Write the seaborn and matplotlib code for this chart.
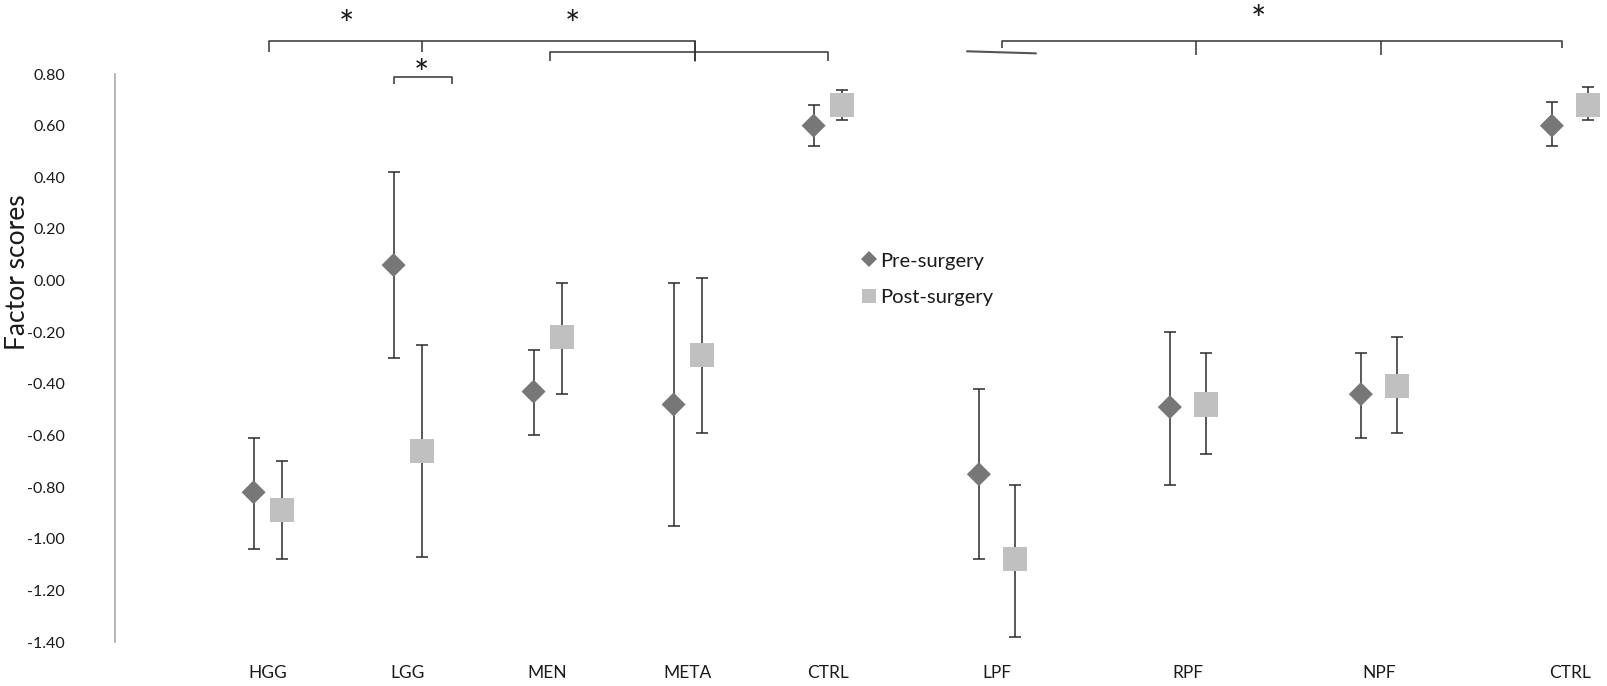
"""Factor scores before and after surgery, by tumour group and by lesion side."""

import matplotlib

matplotlib.use("Agg")
import matplotlib.pyplot as plt
import numpy as np
import pandas as pd
import seaborn as sns
from matplotlib.lines import Line2D

# tumour groups (left panel)
tumour_groups = ["HGG", "LGG", "MEN", "META", "CTRL"]
tumour_pre = [-0.82, 0.06, -0.43, -0.48, 0.60]
tumour_pre_low = [-1.04, -0.30, -0.60, -0.95, 0.52]
tumour_pre_high = [-0.61, 0.42, -0.27, -0.01, 0.68]
tumour_post = [-0.89, -0.66, -0.22, -0.29, 0.68]
tumour_post_low = [-1.08, -1.07, -0.44, -0.59, 0.62]
tumour_post_high = [-0.70, -0.25, -0.01, 0.01, 0.74]

# lesion side groups (right panel)
side_groups = ["LPF", "RPF", "NPF", "CTRL"]
side_pre = [-0.75, -0.49, -0.44, 0.60]
side_pre_low = [-1.08, -0.79, -0.61, 0.52]
side_pre_high = [-0.42, -0.20, -0.28, 0.69]
side_post = [-1.08, -0.48, -0.41, 0.68]
side_post_low = [-1.38, -0.67, -0.59, 0.62]
side_post_high = [-0.79, -0.28, -0.22, 0.75]

y_ticks = [0.80, 0.60, 0.40, 0.20, 0.00, -0.20, -0.40, -0.60, -0.80, -1.00, -1.20, -1.40]
timepoints = ["Pre-surgery", "Post-surgery"]

PRE_COLOR = "#777777"
POST_COLOR = "#c0c0c0"
BAR_COLOR = "#2b2b2b"
TEXT_COLOR = "#1a1a1a"
FONT = ["Lato", "DejaVu Sans"]


def build_frame(groups, pre, pre_low, pre_high, post, post_low, post_high, dodge):
    """Long table with one row per group and timepoint."""
    rows = []
    index = np.arange(len(groups))
    for time, offset, mean, low, high in (
        ("Pre-surgery", -dodge, pre, pre_low, pre_high),
        ("Post-surgery", dodge, post, post_low, post_high),
    ):
        for i, group in enumerate(groups):
            rows.append(
                {
                    "group": group,
                    "time": time,
                    "pos": index[i] + offset,
                    "score": mean[i],
                    "low": low[i],
                    "high": high[i],
                }
            )
    return pd.DataFrame(rows)


def draw_panel(ax, frame, groups):
    """Error bars first, then the markers on top."""
    ax.errorbar(
        frame["pos"],
        frame["score"],
        yerr=[frame["score"] - frame["low"], frame["high"] - frame["score"]],
        fmt="none",
        ecolor=BAR_COLOR,
        elinewidth=1.1,
        capsize=4.3,
        capthick=1.1,
        zorder=2,
    )
    sns.scatterplot(
        data=frame,
        x="pos",
        y="score",
        hue="time",
        style="time",
        size="time",
        hue_order=timepoints,
        palette={"Pre-surgery": PRE_COLOR, "Post-surgery": POST_COLOR},
        markers={"Pre-surgery": "D", "Post-surgery": "s"},
        sizes={"Pre-surgery": 150, "Post-surgery": 300},
        linewidth=0,
        legend=False,
        zorder=3,
        ax=ax,
    )
    ax.set_ylim(-1.40, 0.80)
    ax.set_xticks(np.arange(len(groups)))
    ax.set_xticklabels(groups, fontsize=12.5, color=TEXT_COLOR, family=FONT)
    ax.tick_params(axis="x", length=0, pad=16.5)
    ax.set_xlabel("")
    ax.set_ylabel("")
    for spine in ax.spines.values():
        spine.set_visible(False)


def draw_bracket(ax, x0, x1, y, drop, ticks=(), tick_drop=None, color="#333333"):
    """Horizontal significance bracket with end and middle ticks."""
    kw = dict(color=color, linewidth=1.1, clip_on=False, solid_capstyle="butt")
    ax.plot([x0, x0, x1, x1], [y - drop, y, y, y - drop], **kw)
    for x in ticks:
        ax.plot([x, x], [y, y - (tick_drop or drop)], **kw)


sns.set_theme(style="white")
plt.rcParams["font.family"] = FONT

fig = plt.figure(figsize=(16.08, 6.86), dpi=100)
ax_left = fig.add_axes([0.0715, 0.0641, 0.478, 0.828])
ax_right = fig.add_axes([0.5566, 0.0641, 0.4434, 0.828])

left_frame = build_frame(
    tumour_groups, tumour_pre, tumour_pre_low, tumour_pre_high,
    tumour_post, tumour_post_low, tumour_post_high, dodge=0.1,
)
right_frame = build_frame(
    side_groups, side_pre, side_pre_low, side_pre_high,
    side_post, side_post_low, side_post_high, dodge=0.095,
)

draw_panel(ax_left, left_frame, tumour_groups)
draw_panel(ax_right, right_frame, side_groups)
ax_left.set_xlim(-1.09, 4.4)
ax_right.set_xlim(-0.534, 3.199)

# y axis only on the left panel
ax_left.spines["left"].set_visible(True)
ax_left.spines["left"].set_color("#ababab")
ax_left.spines["left"].set_linewidth(1.2)
ax_left.set_yticks(y_ticks)
ax_left.set_yticklabels([f"{v:.2f}" for v in y_ticks], fontsize=11.5, color=TEXT_COLOR, family=FONT)
ax_left.tick_params(axis="y", length=0, pad=36)
ax_left.set_ylabel("Factor scores", fontsize=19, color=TEXT_COLOR, family=FONT)
ax_left.yaxis.set_label_coords(-0.1105, 0.651)
ax_right.set_yticks([])

# significance brackets, left panel
draw_bracket(ax_left, 0.01, 3.05, 0.927, 0.043, ticks=[1.1])
draw_bracket(ax_left, 2.02, 4.0, 0.884, 0.035, ticks=[3.05])
ax_left.plot([3.05, 3.05], [0.927, 0.85], color="#333333", linewidth=1.1, clip_on=False)
draw_bracket(ax_left, 0.9, 1.32, 0.788, 0.027)
for x, y in [(0.56, 0.945), (2.18, 0.945), (1.1, 0.752)]:
    ax_left.text(x, y, "*", ha="center", va="baseline", fontsize=26, color=TEXT_COLOR, clip_on=False)

# significance brackets, right panel
draw_bracket(ax_right, 0.026, 2.96, 0.927, 0.027, ticks=[1.04, 2.01], tick_drop=0.054)
ax_right.plot([-0.157, 0.204], [0.888, 0.880], color="#555555", linewidth=1.5, clip_on=False)
ax_right.text(1.37, 0.962, "*", ha="center", va="baseline", fontsize=26, color=TEXT_COLOR, clip_on=False)

handles = [
    Line2D([], [], marker="D", linestyle="none", color=PRE_COLOR, markersize=8, markeredgewidth=0),
    Line2D([], [], marker="s", linestyle="none", color=POST_COLOR, markersize=10.5, markeredgewidth=0),
]
fig.legend(
    handles,
    timepoints,
    loc="upper left",
    bbox_to_anchor=(0.536, 0.632),
    frameon=False,
    borderpad=0,
    borderaxespad=0,
    handlelength=0.7,
    handletextpad=0.2,
    labelspacing=0.95,
    prop={"family": FONT, "size": 14.5},
    labelcolor=TEXT_COLOR,
)

fig.savefig("out.png", dpi=100)
plt.close(fig)
